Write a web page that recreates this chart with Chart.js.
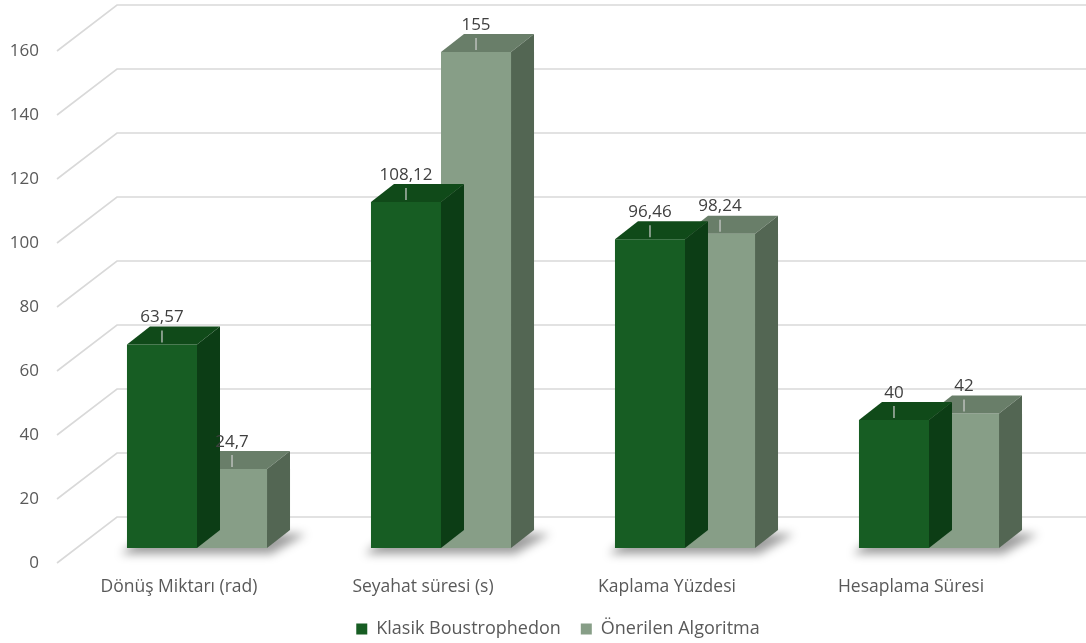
<!DOCTYPE html>
<html>
<head>
<meta charset="utf-8">
<script src="https://cdn.jsdelivr.net/npm/chart.js@4/dist/chart.umd.min.js"></script>
<style>
  html, body { margin: 0; padding: 0; background: #ffffff; }
  #wrap { width: 1086px; height: 643px; position: relative; }
</style>
</head>
<body>
<div id="wrap"><canvas id="c" width="1086" height="643"></canvas></div>
<script>
const categories = ['Dönüş Miktarı (rad)', 'Seyahat süresi (s)', 'Kaplama Yüzdesi', 'Hesaplama Süresi'];
const seriesNames = ['Klasik Boustrophedon', 'Önerilen Algoritma'];
const klasikValues = [63.57, 108.12, 96.46, 40];
const onerilenValues = [24.7, 155, 98.24, 42];
const yMin = 0;
const yMax = 160;
const yStep = 20;

const FONT = "'Open Sans', 'Liberation Sans', Arial, sans-serif";
const DX = 23, DY = -18;
const LEGEND_CENTER_X = 558;
const faceColors = [
  { front: '#175D23', top: '#104A19', side: '#0C3D15' },
  { front: '#879E87', top: '#697E69', side: '#536653' }
];

function fmt(v) { return String(v).replace('.', ','); }

const threeD = {
  id: 'threeD',
  afterLayout(chart) {
    const lg = chart.legend;
    if (lg) {
      const s = LEGEND_CENTER_X - (lg.left + lg.right) / 2;
      lg.left += s; lg.right += s;
    }
  },
  beforeDatasetsDraw(chart) {
    const ctx = chart.ctx, ca = chart.chartArea, ys = chart.scales.y;
    ctx.save();
    ctx.strokeStyle = '#D9D9D9';
    ctx.lineWidth = 1.6;
    for (let v = yMin; v <= yMax; v += yStep) {
      const py = ys.getPixelForValue(v);
      ctx.beginPath();
      ctx.moveTo(ca.left - 18, py + 15);
      ctx.lineTo(ca.left + 42, py - 31);
      ctx.lineTo(chart.width, py - 31);
      ctx.stroke();
    }
    ctx.restore();
    // floor shadows
    const m0 = chart.getDatasetMeta(0), m1 = chart.getDatasetMeta(1);
    ctx.save();
    ctx.filter = 'blur(5px)';
    ctx.fillStyle = 'rgba(0,0,0,0.38)';
    for (let i = 0; i < categories.length; i++) {
      const a = m0.data[i], b = m1.data[i];
      const x1 = a.x - a.width / 2, x2 = b.x + b.width / 2, base = a.base;
      ctx.beginPath();
      ctx.moveTo(x1 - 6, base + 6);
      ctx.lineTo(x2 + 4, base + 6);
      ctx.lineTo(x2 + DX + 16, base + DY + 4);
      ctx.lineTo(x1 + DX, base + DY);
      ctx.closePath();
      ctx.fill();
    }
    ctx.restore();
  },
  afterDatasetDraw(chart, args) {
    const ctx = chart.ctx, meta = args.meta, col = faceColors[args.index];
    ctx.save();
    meta.data.forEach(el => {
      const x1 = el.x - el.width / 2, x2 = el.x + el.width / 2, top = el.y, base = el.base;
      ctx.fillStyle = col.top;
      ctx.beginPath();
      ctx.moveTo(x1, top); ctx.lineTo(x2, top);
      ctx.lineTo(x2 + DX, top + DY); ctx.lineTo(x1 + DX, top + DY);
      ctx.closePath(); ctx.fill();
      ctx.fillStyle = col.side;
      ctx.beginPath();
      ctx.moveTo(x2, top); ctx.lineTo(x2 + DX, top + DY);
      ctx.lineTo(x2 + DX, base + DY); ctx.lineTo(x2, base);
      ctx.closePath(); ctx.fill();
    });
    ctx.restore();
  },
  afterDatasetsDraw(chart) {
    const ctx = chart.ctx;
    ctx.save();
    ctx.font = '17px ' + FONT;
    ctx.textAlign = 'center';
    ctx.textBaseline = 'middle';
    chart.data.datasets.forEach((ds, di) => {
      const meta = chart.getDatasetMeta(di);
      meta.data.forEach((el, i) => {
        const top = el.y;
        ctx.strokeStyle = '#D0D0D0';
        ctx.lineWidth = 1.2;
        ctx.beginPath();
        ctx.moveTo(el.x, top - 14);
        ctx.lineTo(el.x, top - 2);
        ctx.stroke();
        ctx.fillStyle = '#404040';
        ctx.fillText(fmt(ds.data[i]), el.x, top - 27);
      });
    });
    ctx.restore();
  }
};

const chart = new Chart(document.getElementById('c'), {
  type: 'bar',
  data: {
    labels: categories,
    datasets: [
      { label: seriesNames[0], data: klasikValues, backgroundColor: faceColors[0].front, borderWidth: 0 },
      { label: seriesNames[1], data: onerilenValues, backgroundColor: faceColors[1].front, borderWidth: 0 }
    ]
  },
  options: {
    responsive: false,
    animation: false,
    devicePixelRatio: 1,
    layout: { padding: { left: 0, right: 0, top: 0, bottom: 0 } },
    datasets: { bar: { barPercentage: 1.0, categoryPercentage: 0.574 } },
    plugins: {
      legend: {
        position: 'bottom',
        labels: {
          boxWidth: 11, boxHeight: 11, padding: 20,
          color: '#595959',
          font: { family: FONT, size: 18 }
        }
      },
      tooltip: { enabled: false }
    },
    scales: {
      x: {
        grid: { display: false },
        border: { display: false },
        ticks: { color: '#595959', font: { family: FONT, size: 17.5 }, padding: 21, labelOffset: -18, maxRotation: 0 },
        afterFit(scale) { scale.height = 52; }
      },
      y: {
        min: yMin, max: yMax,
        grid: { display: false, drawTicks: false },
        border: { display: false },
        ticks: { stepSize: yStep, color: '#595959', font: { family: FONT, size: 17 }, padding: 36, labelOffset: 15 },
        afterFit(scale) { scale.paddingTop = 0; scale.paddingBottom = 0; }
      }
    }
  },
  plugins: [threeD]
});

// fit chart area to target
const target = { left: 75, top: 36, right: 1051, bottom: 548 };
for (let k = 0; k < 4; k++) {
  const ca = chart.chartArea;
  const p = chart.options.layout.padding;
  chart.options.layout.padding = {
    left: p.left + (target.left - ca.left),
    top: p.top + (target.top - ca.top),
    right: p.right + (ca.right - target.right),
    bottom: p.bottom + (ca.bottom - target.bottom)
  };
  chart.update('none');
}
</script>
</body>
</html>
